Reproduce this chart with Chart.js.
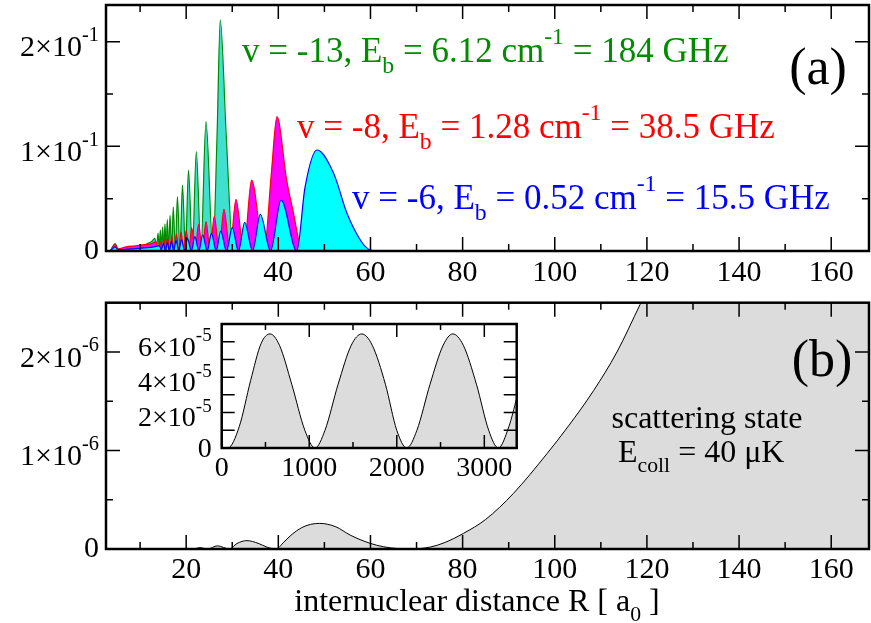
<!DOCTYPE html>
<html>
<head>
<meta charset="utf-8">
<title>bound and scattering states</title>
<script src="https://cdn.jsdelivr.net/npm/chart.js@4.4.1/dist/chart.umd.min.js"></script>
<style>
  body { margin: 0; background: #fff; width: 871px; height: 623px; position: relative; overflow: hidden; }
  canvas { position: absolute; }
</style>
</head>
<body>
<canvas id="chartA" width="871" height="300" style="left:0;top:0"></canvas>
<canvas id="chartB" width="871" height="343" style="left:0;top:280px"></canvas>
<canvas id="chartC" width="410" height="180" style="left:120px;top:310px"></canvas>
<script>
// panel (a): bound states
const greenR = [3.5, 4.6, 5.2, 7, 9, 10.5, 11.5, 12.5, 13.2, 13.6, 13.9, 14.15, 14.4, 14.65, 14.9, 15.15, 15.4, 15.65, 15.9, 16.2, 16.5, 16.85, 17.2, 17.65, 18.1, 18.65, 19.2, 19.85, 20.5, 21.35, 22.2, 23.2, 24.3, 25.8, 26.7, 27.4, 28.7, 30.2, 168];
const greenV = [0, 0.007, 0.002, 0.003, 0.004, 0.005, 0.007, 0.009, 0.012, 0.004, 0.017, 0.003, 0.020, 0.002, 0.023, 0.001, 0.026, 0, 0.030, 0, 0.034, 0, 0.042, 0, 0.052, 0, 0.063, 0, 0.0774, 0, 0.0949, 0, 0.1235, 0, 0.11, 0.2206, 0.11, 0, 0];

const redR = [3.5, 4.6, 5.2, 7, 9, 11, 12.5, 13.4, 13.9, 14.4, 14.8, 15.2, 15.6, 16.0, 16.45, 16.9, 17.4, 17.9, 18.4, 18.9, 19.45, 20.0, 20.6, 21.2, 21.95, 22.7, 23.5, 24.3, 25.2, 26.1, 27.15, 28.2, 29.5, 30.8, 32.5, 34.2, 36.9, 38.5, 39.7, 41.8, 43.3, 44.7, 46, 168];
const redV = [0, 0.006, 0.002, 0.004, 0.005, 0.006, 0.007, 0.009, 0.002, 0.009, 0, 0.011, 0, 0.012, 0, 0.014, 0, 0.016, 0, 0.018, 0, 0.020, 0, 0.0223, 0, 0.0258, 0, 0.028, 0, 0.0334, 0, 0.0398, 0, 0.0494, 0, 0.0678, 0, 0.075, 0.1283, 0.068, 0.036, 0.006, 0, 0];

const blueR = [3.5, 4.6, 5.2, 8, 11, 13, 14.2, 14.6, 15.05, 15.5, 15.9, 16.35, 16.8, 17.3, 17.8, 18.4, 19.0, 19.65, 20.3, 21.1, 21.9, 22.75, 23.6, 24.55, 25.5, 26.5, 27.5, 28.75, 30.0, 31.35, 32.7, 34.4, 36.1, 38.3, 40.6, 44.0, 45.8, 48.4, 52.0, 54.9, 57.8, 59.5, 62, 168];
const blueV = [0, 0.004, 0.001, 0.002, 0.003, 0.004, 0.005, 0.001, 0.007, 0, 0.008, 0, 0.009, 0, 0.010, 0, 0.011, 0, 0.0121, 0, 0.0137, 0, 0.0153, 0, 0.0169, 0, 0.019, 0, 0.0223, 0, 0.0274, 0, 0.035, 0, 0.0487, 0, 0.061, 0.0965, 0.0742, 0.036, 0.0105, 0.002, 0, 0];

// panel (b): scattering state
const scatR = [3, 19, 20.2, 21.5, 23.0, 24.6, 26.8, 29.4, 31.0, 33.2, 35.6, 37.6, 39.5, 41.2, 43, 45, 47, 49, 52.5, 55.6, 59.9, 62.8, 66, 68.7, 73, 76, 80.2, 85, 91, 98.3, 103, 108.4, 113.5, 118.5, 125, 140, 168];
const scatV = [0, 0, 0.006e-6, 0, 0.014e-6, 0, 0.032e-6, 0, 0.055e-6, 0.085e-6, 0.058e-6, 0.018e-6, 0, 0.07e-6, 0.15e-6, 0.215e-6, 0.25e-6, 0.26e-6, 0.225e-6, 0.141e-6, 0.058e-6, 0.023e-6, 0.004e-6, 0, 0.02e-6, 0.063e-6, 0.159e-6, 0.3e-6, 0.563e-6, 0.967e-6, 1.25e-6, 1.606e-6, 2.0e-6, 2.48e-6, 3.1e-6, 4.8e-6, 8.0e-6];

// inset: long range part of the scattering state
const insetR = [0, 70, 200, 330, 450, 552, 660, 800, 950, 1066, 1180, 1330, 1480, 1600, 1720, 1870, 2000, 2114, 2230, 2380, 2530, 2640, 2760, 2910, 3050, 3160, 3280, 3370];
const insetV = [0, 0, 1.2e-5, 3.8e-5, 5.9e-5, 6.44e-5, 5.8e-5, 3.6e-5, 1.0e-5, 0, 1.0e-5, 3.6e-5, 5.8e-5, 6.44e-5, 5.8e-5, 3.6e-5, 1.0e-5, 0, 1.0e-5, 3.6e-5, 5.8e-5, 6.44e-5, 5.8e-5, 3.6e-5, 1.0e-5, 0, 1.2e-5, 2.8e-5];

// ticks and labels
const rTicks = [20, 40, 60, 80, 100, 120, 140, 160];
const rMinor = [10, 30, 50, 70, 90, 110, 130, 150];
const aYTicks = [0, 0.1, 0.2];
const aYLabels = ['0', '1×10', '2×10'];
const aYExp = ['', '-1', '-1'];
const aYMinor = [0.05, 0.15];
const bYTicks = [0, 1e-6, 2e-6];
const bYLabels = ['0', '1×10', '2×10'];
const bYExp = ['', '-6', '-6'];
const bYMinor = [0.5e-6, 1.5e-6];
const iXTicks = [0, 1000, 2000, 3000];
const iXMinor = [500, 1500, 2500];
const iYTicks = [0, 2e-5, 4e-5, 6e-5];
const iYLabels = ['0', '2×10', '4×10', '6×10'];
const iYExp = ['', '-5', '-5', '-5'];
const iYMinor = [1e-5, 3e-5, 5e-5];

const SERIF = '"Liberation Serif", "DejaVu Serif", serif';
const pts = (xs, ys) => xs.map((x, i) => ({ x: x, y: ys[i] }));

// text with sub/superscripts, parts = [[text, 'sub'|'sup'|'']]
function richWidth(ctx, parts, size) {
  let w = 0;
  parts.forEach(p => {
    ctx.font = (p[1] ? size * 0.68 : size) + 'px ' + SERIF;
    w += ctx.measureText(p[0]).width;
  });
  return w;
}
function drawRich(ctx, x, y, parts, size, color, align) {
  if (align === 'center') x -= richWidth(ctx, parts, size) / 2;
  ctx.fillStyle = color;
  ctx.textAlign = 'left';
  ctx.textBaseline = 'alphabetic';
  parts.forEach(p => {
    const s = p[1] ? size * 0.68 : size;
    const dy = p[1] === 'sub' ? size * 0.3 : p[1] === 'sup' ? -size * 0.52 : 0;
    ctx.font = s + 'px ' + SERIF;
    ctx.fillText(p[0], x, y + dy);
    x += ctx.measureText(p[0]).width;
  });
}

function makeFrame(cfg) {
  return {
    id: 'frame' + cfg.name,
    beforeDraw(chart) {
      if (!cfg.bg) return;
      const a = chart.chartArea, ctx = chart.ctx;
      ctx.save();
      ctx.fillStyle = cfg.bg;
      ctx.fillRect(a.left, a.top, a.right - a.left, a.bottom - a.top);
      ctx.restore();
    },
    afterDraw(chart) {
      const ctx = chart.ctx, a = chart.chartArea;
      const xs = chart.scales.x, ys = chart.scales.y;
      ctx.save();
      ctx.strokeStyle = '#000';
      ctx.lineWidth = 1.5;
      ctx.beginPath();
      const xt = (vals, len) => vals.forEach(v => {
        const p = xs.getPixelForValue(v);
        ctx.moveTo(p, a.bottom); ctx.lineTo(p, a.bottom - len);
        ctx.moveTo(p, a.top); ctx.lineTo(p, a.top + len);
      });
      const yt = (vals, len) => vals.forEach(v => {
        const p = ys.getPixelForValue(v);
        ctx.moveTo(a.left, p); ctx.lineTo(a.left + len, p);
        ctx.moveTo(a.right, p); ctx.lineTo(a.right - len, p);
      });
      xt(cfg.xTicks, cfg.major); xt(cfg.xMinor, cfg.minor);
      yt(cfg.yTicks, cfg.major); yt(cfg.yMinor, cfg.yMinorLen || cfg.minor);
      ctx.stroke();
      ctx.lineWidth = cfg.frame;
      ctx.strokeRect(a.left, a.top, a.right - a.left, a.bottom - a.top);

      ctx.fillStyle = '#000';
      // x tick labels
      if (cfg.xLabelY) {
        ctx.font = cfg.size + 'px ' + SERIF;
        ctx.textAlign = 'center';
        ctx.textBaseline = 'middle';
        cfg.xTicks.forEach((v, i) => {
          ctx.fillText(cfg.xLabels ? cfg.xLabels[i] : String(v), xs.getPixelForValue(v), cfg.xLabelY);
        });
      }
      // y tick labels with exponents
      cfg.yTicks.forEach((v, i) => {
        const p = ys.getPixelForValue(v);
        const right = a.left - cfg.yGap;
        ctx.textAlign = 'right';
        ctx.textBaseline = 'middle';
        if (!cfg.yExp[i]) {
          ctx.font = cfg.size + 'px ' + SERIF;
          ctx.fillText(cfg.yLabels[i], right, p + (cfg.zeroDy || 0));
          return;
        }
        ctx.font = (cfg.size * 0.68) + 'px ' + SERIF;
        const ew = ctx.measureText(cfg.yExp[i]).width;
        ctx.fillText(cfg.yExp[i], right, p - cfg.size * 0.2);
        ctx.font = cfg.size + 'px ' + SERIF;
        ctx.fillText(cfg.yLabels[i], right - ew, p + cfg.size * 0.23);
      });
      if (cfg.extra) cfg.extra(ctx);
      ctx.restore();
    }
  };
}

function baseOptions(pad, xmin, xmax, ymin, ymax) {
  return {
    responsive: false,
    animation: false,
    events: [],
    layout: { padding: pad },
    plugins: { legend: { display: false }, tooltip: { enabled: false } },
    elements: { point: { radius: 0 }, line: { cubicInterpolationMode: 'monotone' } },
    scales: {
      x: { type: 'linear', min: xmin, max: xmax, display: false },
      y: { type: 'linear', min: ymin, max: ymax, display: false }
    }
  };
}

// ---------- panel (a)
new Chart(document.getElementById('chartA'), {
  type: 'line',
  data: {
    datasets: [
      { data: pts(blueR, blueV), borderColor: '#0000ff', backgroundColor: '#00ffff', fill: 'origin', borderWidth: 1.2, order: 1 },
      { data: pts(redR, redV), borderColor: '#ff0000', backgroundColor: '#ff00ff', fill: 'origin', borderWidth: 1.2, order: 2 },
      { data: pts(greenR, greenV), borderColor: '#008b00', backgroundColor: '#40e0d0', fill: 'origin', borderWidth: 1.2, order: 3 }
    ]
  },
  options: baseOptions({ left: 106, top: 5, right: 2, bottom: 49 }, 2.6, 168.2, 0, 0.235),
  plugins: [makeFrame({
    name: 'A', major: 14, minor: 7, frame: 2.5, size: 30, yGap: 7,
    xTicks: rTicks, xMinor: rMinor, xLabelY: 273,
    yTicks: aYTicks, yMinor: aYMinor, yLabels: aYLabels, yExp: aYExp,
    extra: ctx => {
      drawRich(ctx, 242, 62, [['v = -13, E', ''], ['b', 'sub'], [' = 6.12 cm', ''], ['-1', 'sup'], [' = 184 GHz', '']], 35, '#008b00');
      drawRich(ctx, 297, 138, [['v = -8, E', ''], ['b', 'sub'], [' = 1.28 cm', ''], ['-1', 'sup'], [' = 38.5 GHz', '']], 35, '#ff0000');
      drawRich(ctx, 352, 209, [['v = -6, E', ''], ['b', 'sub'], [' = 0.52 cm', ''], ['-1', 'sup'], [' = 15.5 GHz', '']], 35, '#0000ff');
      ctx.fillStyle = '#000';
      ctx.font = '52px ' + SERIF;
      ctx.textAlign = 'center';
      ctx.textBaseline = 'middle';
      ctx.fillText('(a)', 818, 70);
    }
  })]
});

// ---------- panel (b)
new Chart(document.getElementById('chartB'), {
  type: 'line',
  data: {
    datasets: [
      { data: pts(scatR, scatV), borderColor: '#000000', backgroundColor: '#dcdcdc', fill: 'origin', borderWidth: 1 }
    ]
  },
  options: baseOptions({ left: 106, top: 22.7, right: 2, bottom: 74 }, 2.6, 168.2, 0, 2.5e-6),
  plugins: [makeFrame({
    name: 'B', major: 14, minor: 7, frame: 2.5, size: 30, yGap: 7,
    xTicks: rTicks, xMinor: rMinor, xLabelY: 290,
    yTicks: bYTicks, yMinor: bYMinor, yLabels: bYLabels, yExp: bYExp,
    extra: ctx => {
      ctx.fillStyle = '#000';
      ctx.font = '52px ' + SERIF;
      ctx.textAlign = 'center';
      ctx.textBaseline = 'middle';
      ctx.fillText('(b)', 822, 82);
      ctx.font = '32px ' + SERIF;
      ctx.fillText('scattering state', 707, 140);
      drawRich(ctx, 618, 182, [['E', ''], ['coll', 'sub'], [' = 40 μK', '']], 32, '#000');
      drawRich(ctx, 477, 331, [['internuclear distance R [ a', ''], ['0', 'sub'], [' ]', '']], 32, '#000', 'center');
    }
  })]
});

// ---------- inset
new Chart(document.getElementById('chartC'), {
  type: 'line',
  data: {
    datasets: [
      { data: pts(insetR, insetV), borderColor: '#000000', backgroundColor: '#dcdcdc', fill: 'origin', borderWidth: 1 }
    ]
  },
  options: baseOptions({ left: 101.7, top: 14, right: 13.3, bottom: 42 }, 0, 3370, 0, 7e-5),
  plugins: [makeFrame({
    name: 'C', bg: '#ffffff', major: 13, minor: 6, yMinorLen: 13, frame: 2.5, size: 28, yGap: 10,
    xTicks: iXTicks, xMinor: iXMinor, xLabelY: 159, xLabels: ['0', '1000', '2000', '3000'],
    yTicks: iYTicks, yMinor: iYMinor, yLabels: iYLabels, yExp: iYExp, zeroDy: 2
  })]
});
</script>
</body>
</html>
